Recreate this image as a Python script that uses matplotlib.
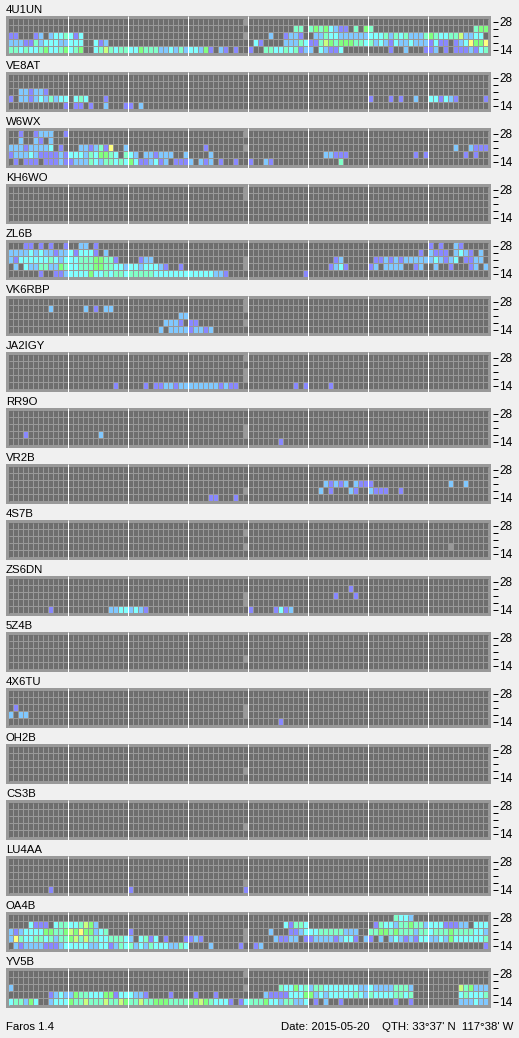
#!/usr/bin/env python3
"""Faros beacon monitor screenshot: one band/time grid per beacon station."""
import matplotlib

matplotlib.use("Agg")
import matplotlib.pyplot as plt
import numpy as np
from matplotlib.colors import ListedColormap
from matplotlib.transforms import ScaledTranslation

W, H = 519, 1038
BG = "#f0f0f0"
FRAME = "#999999"
# index 0 = no signal, 1..7 = signal level, 8 = no data
LEVEL_COLORS = ["#6e6e6e", "#8888ff", "#80c8ff", "#80ffff", "#80ffc8",
                "#80ff80", "#c8ff80", "#ffff80", FRAME]

N_SLOTS = 96
BANDS = ["28", "", "", "", "14"]

# Each station has five rows, 28 MHz on top. A row is "slot:levels" runs,
# "." means no signal and "x" means no data.
S_4U1UN = [
    "47:x",
    "57:44.45453211.4.54 93:455",
    "0:11 5:12.2334313 47:x 52:2 55:1221 61:2243322222233342434222454334462233",
    "0:222114233322333 17:312 49:31 55:222431146545554434232132232221311.1237557",
    "0:443433453345345 17:346434433544422324233251 42:21 45:1 48:1 51:4433434122.32113 76:1 79:2 83:112.1.1112134",
]
S_VE8AT = [
    "",
    "",
    "2:221221",
    "0:1 2:2212324233 13:343 19:1 72:1 76:1 78:1 81:2 84:331321 95:1",
    "11:1 13:11 16:1 19:2 23:11 26:2",
]
S_W6WX = [
    "2:1 5:1222 11:1 47:x",
    "2:2 5:21 8:2",
    "0:222122223 10:1 14:2212417 23:2 39:1 47:x 89:2 92:2111",
    "0:1222321111213332435543.432.221222..2 40:2 63:22111 81:1 83:1 91:1 93:1",
    "1:1 3:111 7:1112112224324434353112312.1112.212 42:1 45:1 48:1 51:21 66:4",
]
S_KH6WO = ["47:x", "47:x", "", "", ""]
S_ZL6B = [
    "3:11 6:1 8:1 11:1 14:22 17:1 84:1 86:1 89:21",
    "0:2222323221223 13:1333 17:1 19:2 82:1 84:2111 89:2321 94:2",
    "0:2133333343233344455441 26:122 47:x 65:12 73:112121222222 85:3211 88:23 91:1122",
    "1:2 3:32244225433444554433233233321 34:1 47:x 64:1231 72:12 75:2222 81:12 85:2 88:1 92:12 95:2",
    "6:1 9:112 12:33335334344344444333333333333221 59:1",
]
S_VK6RBP = [
    "47:x",
    "8:2 15:2 17:1 19:22 47:x",
    "34:22",
    "31:2221 36:11 47:x",
    "30:2 32:222212212",
]
S_JA2IGY = [
    "47:x",
    "",
    "47:x",
    "47:x",
    "21:1 27:1 29:11221 34:22222222 42:1211 57:1 59:1 64:1",
]
S_RR9O = ["", "", "47:x", "3:1 18:2 47:x", "54:1"]
S_VR2B = [
    "",
    "",
    "63:21212 69:2111 88:2 91:2",
    "47:x 62:2 64:1 68:21 72:2111 78:1",
    "40:11 45:1",
]
S_4S7B = ["", "47:x", "", "47:x 88:x", ""]
S_ZS6DN = [
    "",
    "68:1",
    "47:x 65:1 69:1",
    "47:x",
    "8:1 20:22332321 48:1 53:1312",
]
S_5Z4B = ["", "", "", "47:x", ""]
S_4X6TU = ["", "", "1:1 47:x", "0:2 2:22 47:x", "54:1"]
S_OH2B = ["", "", "", "47:x", ""]
S_CS3B = ["", "", "", "47:x", ""]
S_LU4AA = ["", "", "", "47:x", "8:1 24:1 47:1"]
S_OA4B = [
    "77:4332",
    "4:3111 9:34433465 17:2 55:31443 73:1433244544233311122 93:333",
    "0:21233335544565755234 24:1 47:x 52:2 56:11233344444222 72:445545444244344454444332",
    "0:27433443424456464433 20:44432.3413.1 35:1121 47:x 53:21122 59:1122221 66:233 69:1 71:21 74:2 76:23212133223253333334",
    "1:21222211123333322331243423243332243 40:2 46:1 49:12 95:1",
]
S_YV5B = [
    "47:x",
    "",
    "0:2 47:x 54:433534244333333322322224442 90:645222",
    "8:12322544333551333221 32:1 37:1 41:1 51:211113335523233333432433334434 90:343334",
    "0:344253 8:2333544644464465446445554444556543331.13444533244223 61:1 63:2 66:1 77:1 80:1 90:222322",
]

STATIONS = ["4U1UN", "VE8AT", "W6WX", "KH6WO", "ZL6B", "VK6RBP", "JA2IGY", "RR9O", "VR2B",
            "4S7B", "ZS6DN", "5Z4B", "4X6TU", "OH2B", "CS3B", "LU4AA", "OA4B", "YV5B"]
ROWS = [S_4U1UN, S_VE8AT, S_W6WX, S_KH6WO, S_ZL6B, S_VK6RBP, S_JA2IGY, S_RR9O, S_VR2B,
        S_4S7B, S_ZS6DN, S_5Z4B, S_4X6TU, S_OH2B, S_CS3B, S_LU4AA, S_OA4B, S_YV5B]


def parse_row(spec):
    row = np.zeros(N_SLOTS, dtype=int)
    for run in spec.split():
        start, levels = run.split(":")
        for i, ch in enumerate(levels):
            if ch == "x":
                row[int(start) + i] = 8
            elif ch != ".":
                row[int(start) + i] = int(ch)
    return row


def main():
    plt.rcParams["font.family"] = ["Liberation Sans", "DejaVu Sans"]
    px = 72 / 100

    fig = plt.figure(figsize=(W / 100, H / 100), dpi=100, facecolor=BG)
    cmap = ListedColormap(LEVEL_COLORS)
    label_up = ScaledTranslation(0, 1 / 100, fig.dpi_scale_trans)

    for i, (name, rows) in enumerate(zip(STATIONS, ROWS)):
        top = 16 + 56 * i
        ax = fig.add_axes([6 / W, (H - top - 40) / H, 485 / W, 40 / H])
        ax.set_facecolor(FRAME)
        data = np.array([parse_row(r) for r in rows])
        ax.pcolormesh(np.arange(N_SLOTS + 1), np.arange(6), data, cmap=cmap,
                      vmin=-0.5, vmax=8.5, antialiased=False, linewidth=0)
        ax.set_xlim(-0.6, 96.4)
        ax.set_ylim(37 / 7, -3 / 7)

        # 1 px gaps between cells, white line every 3 hours.
        # Offsets keep Agg's line snapping on the right pixel.
        ax.vlines(np.arange(N_SLOTS) + 0.84, 0, 5, color=FRAME, lw=px)
        ax.hlines(np.arange(5) + 6.2 / 7, 0, N_SLOTS, color=FRAME, lw=px)
        ax.vlines(np.arange(1, 8) * 12 - 0.16, -3 / 7, 37 / 7, color="white", lw=px)

        for spine in ax.spines.values():
            spine.set_visible(False)
        ax.spines["right"].set_position(("outward", 2 * px))
        ax.set_xticks([])
        ax.yaxis.tick_right()
        ax.set_yticks(np.arange(5) + 3.2 / 7, BANDS)
        ax.tick_params(axis="y", length=4.5 * px, width=px, pad=2 * px,
                       labelsize=8.5, color="black")
        for tick in ax.yaxis.get_major_ticks():
            tick.label2.set_transform(tick.label2.get_transform() + label_up)
        ax.set_title(name, loc="left", fontsize=8.2, pad=3 * px, color="black")

    fig.text(6.5 / W, 8 / H, "Faros 1.4", fontsize=8.2, va="baseline")
    fig.text(513 / W, 8 / H, "Date: 2015-05-20    QTH: 33°37' N  117°38' W",
             fontsize=8.2, va="baseline", ha="right")
    fig.savefig("out.png", dpi=100, facecolor=BG)


if __name__ == "__main__":
    main()
